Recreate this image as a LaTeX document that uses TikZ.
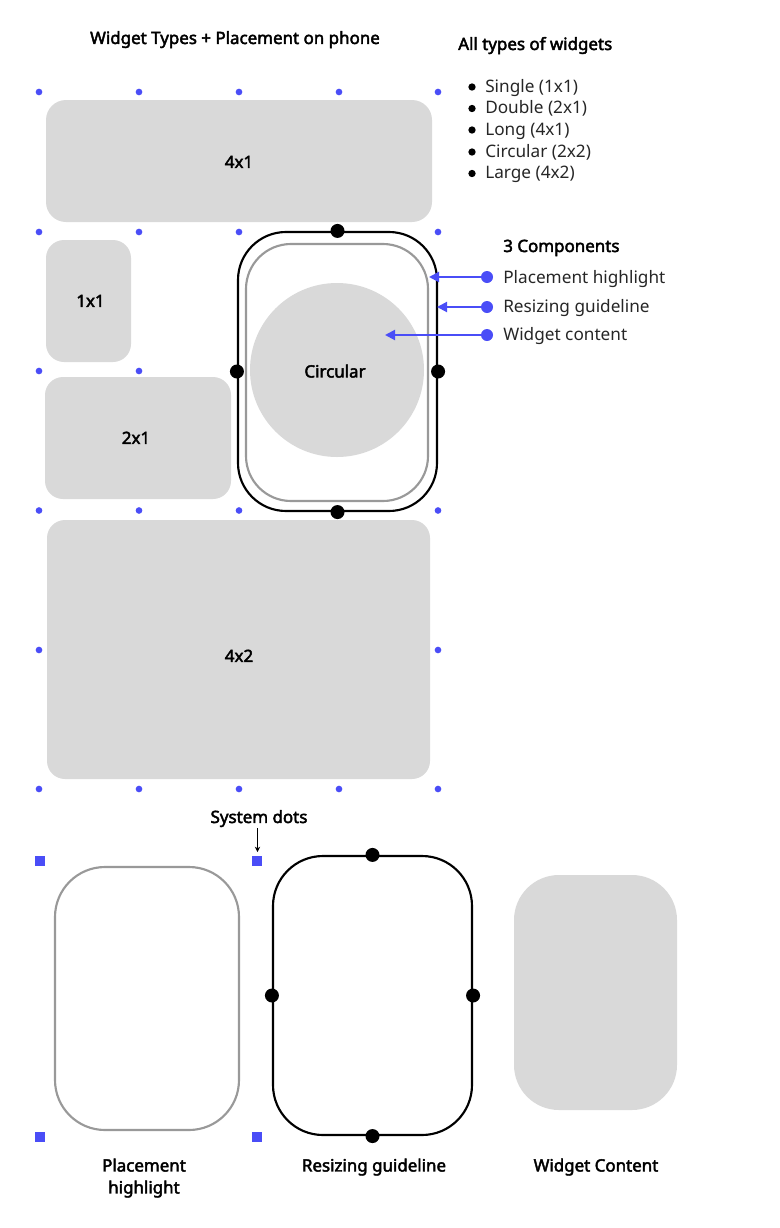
\documentclass[tikz,border=0pt]{standalone}
\usepackage{fontspec}
\setmainfont{Noto Sans}
\newfontfamily\medfont{Noto Sans}[FakeBold=2.6]
\usetikzlibrary{arrows.meta}
\definecolor{widgetgray}{HTML}{D9D9D9}
\definecolor{linegray}{HTML}{999999}
\definecolor{dotblue}{HTML}{4A4DF7}
\tikzset{
	widget/.style 2 args={fill=widgetgray, rounded corners=#1*0.75pt, minimum width=#2*0.75pt, inner sep=0pt},
	outline/.style 2 args={draw, fill=none, line width=1.6pt, rounded corners=#1*0.75pt, minimum width=#2*0.75pt, inner sep=0pt},
	griddot/.style={circle, fill=dotblue, minimum size=5pt, inner sep=0pt},
	blackdot/.style={circle, fill=black, minimum size=10.5pt, inner sep=0pt},
	pointdot/.style={circle, fill=dotblue, minimum size=9pt, inner sep=0pt},
	sysdot/.style={rectangle, fill=dotblue, minimum size=7pt, inner sep=0pt},
	heading/.style={font=\fontsize{12.7}{15}\medfont, text height=9pt, text depth=3pt, inner sep=0pt, yshift=-1.1pt},
	plain/.style={font=\fontsize{12.9}{15}\selectfont, color=black!85, text height=9pt, text depth=3pt, inner sep=0pt, yshift=-1.1pt},
	pointer/.style={dotblue, line width=1.5pt, -{Triangle[length=7.5pt,width=7.5pt]}}
}
\begin{document}
\begin{tikzpicture}[x=0.75pt, y=-0.75pt]
	\useasboundingbox (0,0) rectangle (780,1228);

	% headings
	\node[heading] (title) at (235,38.5) {Widget Types + Placement on phone};
	\node[heading, anchor=west] (alltypes) at (458,44.5) {All types of widgets};
	\node[heading, anchor=west] (components) at (503,246.5) {3 Components};

	% list of types
	\foreach \i/\y/\txt in {1/87/Single (1x1), 2/108.5/Double (2x1), 3/130/Long (4x1), 4/152/Circular (2x2), 5/173.5/Large (4x2)} {
		\node[circle, fill=black, minimum size=5.5pt, inner sep=0pt] (bullet\i) at (472,\y) {};
		\node[plain, anchor=west] (type\i) at (485,\y) {\txt};
	}

	% grid dots
	\foreach \x in {39,139,239,339,438} {
		\node[griddot] (top\x) at (\x,92) {};
		\node[griddot] (bot\x) at (\x,789) {};
		\node[griddot] (mid\x) at (\x,510.5) {};
	}
	\foreach \x in {39,139,239,438} \node[griddot] (upper\x) at (\x,232) {};
	\node[griddot] (row1) at (39,371) {};
	\node[griddot] (row2) at (139,371) {};
	\node[griddot] (row3) at (39,650) {};
	\node[griddot] (row4) at (438,650) {};

	% widgets
	\node[widget={20}{386}, minimum height=91.5pt] (long) at (239,161) {};
	\node[widget={18}{85}, minimum height=91.5pt] (single) at (88.5,301) {};
	\node[widget={18}{186}, minimum height=91.5pt] (double) at (138,438) {};
	\node[widget={18}{383}, minimum height=194.25pt] (large) at (238.5,649.5) {};
	\node[heading] (longlabel) at (239,162.5) {4x1};
	\node[heading] (singlelabel) at (90.5,301.5) {1x1};
	\node[heading] (doublelabel) at (136,438.5) {2x1};
	\node[heading] (largelabel) at (239,656.5) {4x2};

	% circular widget
	\node[circle, fill=widgetgray, minimum size=130.5pt, inner sep=0pt] (circular) at (337,370) {};
	\node[heading] (circlabel) at (335,372) {Circular};
	\node[outline={45}{182}, draw=linegray, minimum height=192.75pt] (place) at (337,372.5) {};
	\node[outline={48}{199}, minimum height=209.25pt] (guide) at (337.5,371.5) {};
	\node[blackdot] (gn) at (guide.north) {};
	\node[blackdot] (gs) at (guide.south) {};
	\node[blackdot] (gw) at (guide.west) {};
	\node[blackdot] (ge) at (guide.east) {};

	% pointers
	\node[pointdot] (p1) at (487,277) {};
	\node[pointdot] (p2) at (487,307) {};
	\node[pointdot] (p3) at (487,335) {};
	\coordinate (t1) at (429,277);
	\coordinate (t2) at (437,307);
	\coordinate (t3) at (385,335);
	\draw[pointer] (p1) -- (t1);
	\draw[pointer] (p2) -- (t2);
	\draw[pointer] (p3) -- (t3);
	\node[plain, anchor=west] (l1) at (503,278.5) {Placement highlight};
	\node[plain, anchor=west] (l2) at (503,307.5) {Resizing guideline};
	\node[plain, anchor=west] (l3) at (503,335.5) {Widget content};

	% system dots
	\node[sysdot] (s1) at (40,861) {};
	\node[sysdot] (s2) at (257,861) {};
	\node[sysdot] (s3) at (40,1137) {};
	\node[sysdot] (s4) at (257,1137) {};
	\node[heading] (syslabel) at (259,817.5) {System dots};
	\coordinate (sysstart) at (257.5,828);
	\coordinate (sysend) at (257.5,852);
	\draw[-{Stealth[length=4pt,width=4pt]}, line width=0.6pt] (sysstart) -- (sysend);

	% the three parts
	\node[outline={50}{184}, draw=linegray, minimum height=197.25pt] (bplace) at (147,998.5) {};
	\node[outline={50}{199}, minimum height=209.25pt] (bguide) at (372.5,995.5) {};
	\node[blackdot] (bn) at (bguide.north) {};
	\node[blackdot] (bs) at (bguide.south) {};
	\node[blackdot] (bw) at (bguide.west) {};
	\node[blackdot] (be) at (bguide.east) {};
	\node[widget={45}{163}, minimum height=176.25pt] (bcontent) at (595.5,992.5) {};

	\node[heading] (c1a) at (144,1166) {Placement};
	\node[heading] (c1b) at (144,1188) {highlight};
	\node[heading] (c2) at (374,1166) {Resizing guideline};
	\node[heading] (c3) at (596,1166) {Widget Content};
\end{tikzpicture}
\end{document}
